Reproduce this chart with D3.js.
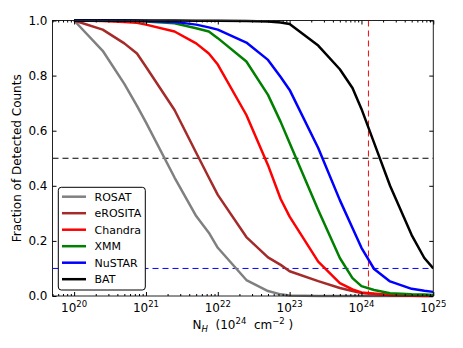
<!DOCTYPE html>
<html><head><meta charset="utf-8">
<script src="https://cdn.jsdelivr.net/npm/d3@7"></script>
<style>
html,body{margin:0;padding:0;background:#fff;}
svg{display:block;font-family:"DejaVu Sans",sans-serif;}
</style></head>
<body><svg id="c" width="463" height="348"></svg>
<script>
const nh = [1e20,2.5e20,5e20,7.5e20,1e21,2.5e21,5e21,7.5e21,1e22,2.5e22,5e22,7.5e22,1e23,2.5e23,5e23,7.5e23,1e24,1.5e24,2.5e24,5e24,7.5e24,1e25];
const rosat   = [1.0,0.89,0.77,0.69,0.63,0.43,0.29,0.23,0.175,0.058,0.018,0.006,0.002,0,0,0,0,0,0,0,0,0];
const erosita = [1.0,0.967,0.917,0.88,0.832,0.675,0.52,0.43,0.367,0.214,0.14,0.113,0.09,0.054,0.029,0.018,0.011,0.008,0.004,0.001,0,0];
const chandra = [1.0,0.998,0.995,0.992,0.985,0.96,0.917,0.88,0.84,0.657,0.475,0.352,0.288,0.125,0.047,0.024,0.013,0.008,0.004,0.002,0.001,0.001];
const xmm     = [1.0,1.0,0.999,0.998,0.996,0.99,0.972,0.96,0.936,0.851,0.73,0.632,0.555,0.312,0.138,0.065,0.036,0.022,0.01,0.006,0.005,0.004];
const nustar  = [1.0,1.0,1.0,0.999,0.998,0.995,0.985,0.975,0.967,0.92,0.857,0.795,0.748,0.537,0.348,0.247,0.175,0.098,0.053,0.026,0.019,0.015];
const bat     = [1,1,1,1,1,1,0.999,0.999,0.999,0.998,0.996,0.993,0.987,0.909,0.823,0.755,0.679,0.556,0.4,0.221,0.138,0.1];
const seriesNames = ["ROSAT","eROSITA","Chandra","XMM","NuSTAR","BAT"];
const seriesColors = ["#808080","#a52a2a","#ff0000","#008000","#0000ff","#000000"];
const seriesValues = [rosat,erosita,chandra,xmm,nustar,bat];
const xDomain = [5e19, 1e25];
const xMajor = [1e20,1e21,1e22,1e23,1e24,1e25];
const xMajorExp = ["20","21","22","23","24","25"];
const yTicks = [0,0.2,0.4,0.6,0.8,1.0];
const hLines = [{v:0.5,color:"#000"},{v:0.1,color:"#0000ff"}];
const vLine = 1.25e24;

const svg = d3.select("#c");
const L=52.5, R=433.3, T=20.5, B=296;
const x = d3.scaleLog().domain(xDomain).range([L,R]);
const y = d3.scaleLinear().domain([0,1]).range([B,T]);

svg.append("clipPath").attr("id","cp").append("rect")
  .attr("x",L).attr("y",T-2).attr("width",R-L).attr("height",B-T+4);

const g0 = svg.append("g").attr("clip-path","url(#cp)");
hLines.forEach(h=>{
  g0.append("line").attr("x1",L).attr("x2",R).attr("y1",y(h.v)).attr("y2",y(h.v))
    .attr("stroke",h.color).attr("stroke-width",1).attr("stroke-dasharray","6,4");
});
g0.append("line").attr("x1",x(vLine)).attr("x2",x(vLine)).attr("y1",T).attr("y2",B)
  .attr("stroke","#ff0000").attr("stroke-width",1).attr("stroke-dasharray","6,4");

const line = d3.line().x((d,i)=>x(nh[i])).y(d=>y(d));
seriesValues.forEach((vals,k)=>{
  g0.append("path").attr("d",line(vals)).attr("fill","none")
    .attr("stroke",seriesColors[k]).attr("stroke-width",2.5).attr("stroke-linejoin","round");
});

svg.append("rect").attr("x",L).attr("y",T).attr("width",R-L).attr("height",B-T)
  .attr("fill","none").attr("stroke","#222").attr("stroke-width",1);

const minor = [];
for(let e=19;e<25;e++) for(let m=2;m<=9;m++){const v=m*Math.pow(10,e); if(v>=xDomain[0]&&v<=xDomain[1]) minor.push(v);}
[[d3.axisBottom(x).tickValues(xMajor).tickSize(-4),B],[d3.axisBottom(x).tickValues(minor).tickSize(-2),B],
 [d3.axisTop(x).tickValues(xMajor).tickSize(-4),T],[d3.axisTop(x).tickValues(minor).tickSize(-2),T]].forEach(([ax,pos])=>{
  const g=svg.append("g").attr("transform",`translate(0,${pos})`).call(ax.tickFormat(""));
  g.select(".domain").remove();
  g.selectAll("line").attr("stroke","#000");
});
[[d3.axisLeft(y),L],[d3.axisRight(y),R]].forEach(([ax,pos])=>{
  const g=svg.append("g").attr("transform",`translate(${pos},0)`).call(ax.tickValues(yTicks).tickSize(-4).tickFormat(""));
  g.select(".domain").remove();
  g.selectAll("line").attr("stroke","#000");
});

svg.append("g").selectAll("text").data(yTicks).join("text")
  .attr("x",L-5).attr("y",d=>y(d)+4.3).attr("text-anchor","end")
  .attr("font-size",12).text(d=>d.toFixed(1));
const xl = svg.append("g").selectAll("text").data(xMajor).join("text")
  .attr("x",d=>x(d)).attr("y",B+16).attr("text-anchor","middle").attr("font-size",12);
xl.append("tspan").text("10");
xl.append("tspan").attr("dy",-5).attr("font-size",8.5).text((d,i)=>xMajorExp[i]);

svg.append("text").attr("transform",`translate(21,${(T+B)/2}) rotate(-90)`)
  .attr("text-anchor","middle").attr("font-size",12).text("Fraction of Detected Counts");
const xt = svg.append("text").attr("x",(L+R)/2).attr("y",329).attr("text-anchor","middle").attr("font-size",12);
xt.append("tspan").text("N");
xt.append("tspan").attr("dy",3).attr("font-size",8.5).attr("font-style","italic").text("H");
xt.append("tspan").attr("dy",-3).text("\u00a0\u00a0(10");
xt.append("tspan").attr("dy",-5).attr("font-size",8.5).text("24");
xt.append("tspan").attr("dy",5).text("\u00a0\u00a0cm");
xt.append("tspan").attr("dy",-5).attr("font-size",8.5).text("\u22122");
xt.append("tspan").attr("dy",5).text("\u00a0)");

const lg = svg.append("g");
lg.append("rect").attr("x",58.3).attr("y",187.3).attr("width",87).attr("height",102.7)
  .attr("rx",3).attr("fill","#fff").attr("stroke","#000").attr("stroke-width",1);
seriesNames.forEach((n,i)=>{
  const yy = 196.7 + i*16.5;
  lg.append("line").attr("x1",62).attr("x2",86).attr("y1",yy).attr("y2",yy)
    .attr("stroke",seriesColors[i]).attr("stroke-width",2.5);
  lg.append("text").attr("x",94.5).attr("y",yy+4).attr("font-size",11).text(n);
});
</script></body></html>
